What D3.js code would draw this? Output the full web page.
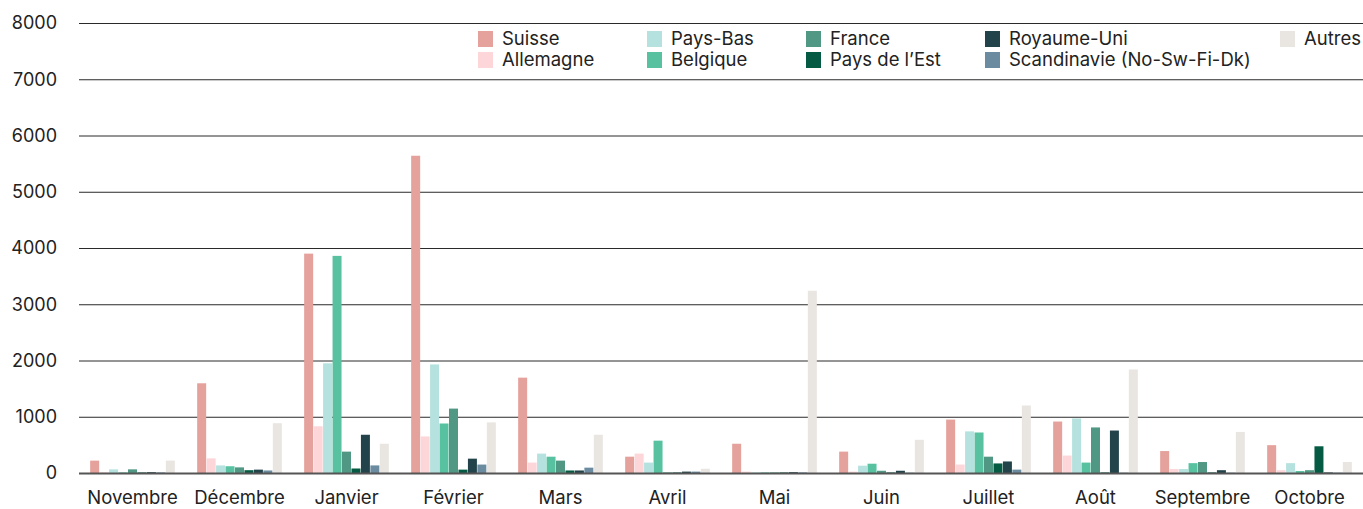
<!DOCTYPE html>
<html>
<head>
<meta charset="utf-8">
<script src="https://cdn.jsdelivr.net/npm/d3@7"></script>
<style>
  body { margin: 0; background: #fff; }
  text { font-family: Inter, "Noto Sans", sans-serif; fill: #222; }
</style>
</head>
<body>
<div class="stage"></div>
<script>
var months = ["Novembre", "Décembre", "Janvier", "Février", "Mars", "Avril", "Mai", "Juin", "Juillet", "Août", "Septembre", "Octobre"];
var countries = ["Suisse", "Allemagne", "Pays-Bas", "Belgique", "France", "Pays de l\u2019Est", "Royaume-Uni", "Scandinavie (No-Sw-Fi-Dk)", "Autres"];
var colors = ["#e5a19b", "#fcd6d9", "#b5e2df", "#57c1a0", "#509883", "#055a43", "#23434b", "#6a8ba0", "#e9e5e1"];
var yTicks = [0, 1000, 2000, 3000, 4000, 5000, 6000, 7000, 8000];

// one array per country, one value per month
var suisse      = [220, 1595, 3900, 5640, 1695, 290, 520, 380, 950, 915, 390, 495];
var allemagne   = [10, 260, 830, 650, 185, 345, 25, 25, 150, 310, 70, 50];
var paysBas     = [65, 135, 1950, 1930, 345, 185, 10, 130, 740, 970, 70, 175];
var belgique    = [10, 120, 3860, 880, 290, 575, 10, 165, 720, 185, 175, 35];
var france      = [65, 100, 380, 1145, 220, 10, 10, 40, 290, 810, 195, 50];
var paysEst     = [10, 50, 80, 60, 45, 10, 10, 10, 170, 10, 10, 475];
var royaumeUni  = [15, 60, 680, 255, 45, 25, 15, 40, 205, 755, 50, 10];
var scandinavie = [10, 45, 135, 150, 95, 25, 10, 5, 60, 5, 5, 5];
var autres      = [220, 885, 520, 900, 680, 75, 3240, 590, 1200, 1840, 730, 195];

var series = [suisse, allemagne, paysBas, belgique, france, paysEst, royaumeUni, scandinavie, autres];

var width = 1363, height = 509;
var svg = d3.select(".stage").append("svg").attr("width", width).attr("height", height);

var x = d3.scaleBand().domain(months).range([79, 1363]).paddingInner(0.2).paddingOuter(0.1);
var xs = d3.scaleBand().domain(countries).range([0, x.bandwidth()]).padding(0.05);
var y = d3.scaleLinear().domain([0, 8000]).range([473, 23]);

// gridlines
svg.append("g").selectAll("line").data(yTicks.slice(1)).enter()
  .append("line")
  .attr("x1", 79).attr("x2", width)
  .attr("y1", function(d){ return y(d) + 0.5; })
  .attr("y2", function(d){ return y(d) + 0.5; })
  .attr("stroke", "#2a2a2a").attr("stroke-width", 1);

// y labels
svg.append("g").selectAll("text").data(yTicks).enter()
  .append("text")
  .attr("x", 57).attr("y", function(d){ return y(d); })
  .attr("dy", "0.35em").attr("text-anchor", "end")
  .style("font-size", "18px")
  .text(function(d){ return d; });

// bars
var groups = svg.append("g").selectAll("g").data(months).enter()
  .append("g")
  .attr("transform", function(d){ return "translate(" + x(d) + ",0)"; });

groups.selectAll("rect").data(function(m, i){
    return series.map(function(s, j){ return {c: countries[j], v: s[i], col: colors[j]}; });
  }).enter()
  .append("rect")
  .attr("x", function(d){ return xs(d.c); })
  .attr("width", xs.bandwidth())
  .attr("y", function(d){ return y(d.v); })
  .attr("height", function(d){ return y(0) - y(d.v); })
  .attr("fill", function(d){ return d.col; });

// baseline
svg.append("line")
  .attr("x1", 79).attr("x2", width)
  .attr("y1", y(0) + 0.5).attr("y2", y(0) + 0.5)
  .attr("stroke", "#555").attr("stroke-width", 2);

// x labels
svg.append("g").selectAll("text").data(months).enter()
  .append("text")
  .attr("x", function(d){ return x(d) + x.bandwidth() / 2; })
  .attr("y", 498).attr("dy", "0.35em")
  .attr("text-anchor", "middle")
  .style("font-size", "18.5px")
  .text(function(d){ return d; });

// legend, column by column
var legX = [478, 478, 647, 647, 806, 806, 985, 985, 1280];
var legY = [39, 60, 39, 60, 39, 60, 39, 60, 39];
var leg = svg.append("g").selectAll("g").data(countries).enter()
  .append("g")
  .attr("transform", function(d, i){ return "translate(" + legX[i] + "," + legY[i] + ")"; });
leg.append("rect").attr("x", 0).attr("y", -8).attr("width", 15).attr("height", 16)
  .attr("fill", function(d, i){ return colors[i]; });
leg.append("text").attr("x", 24).attr("y", 0).attr("dy", "0.35em")
  .style("font-size", "18.5px")
  .text(function(d){ return d; });
</script>
</body>
</html>
